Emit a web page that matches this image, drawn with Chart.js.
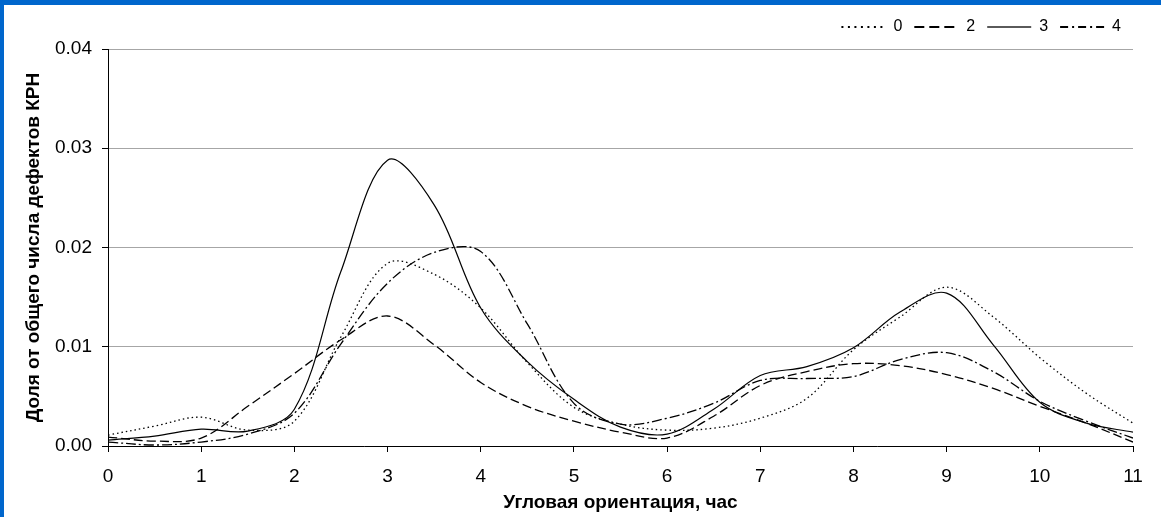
<!DOCTYPE html>
<html><head><meta charset="utf-8">
<script src="https://cdn.jsdelivr.net/npm/chart.js@4.4.1/dist/chart.umd.min.js"></script>
<style>
html,body{margin:0;padding:0;background:#fff;}
body{width:1161px;height:517px;overflow:hidden;position:relative;}
#wrap{position:absolute;left:0;top:0;width:1161px;height:517px;}
.bt{position:absolute;left:0;top:0;width:1161px;height:5px;background:#0066CC;}
.bl{position:absolute;left:0;top:0;width:4px;height:517px;background:#0066CC;}
</style></head><body>
<div id="wrap"><canvas id="c" width="1161" height="517"></canvas></div>
<div class="bt"></div><div class="bl"></div>
<script>
const hours = [0,0.5,1,1.5,2,2.5,3,3.5,4,4.5,5,5.5,6,6.5,7,7.5,8,8.5,9,9.5,10,10.5,11];
const seriesNames = ['0','2','3','4'];
const s0 = [0.0011,0.0020,0.0029,0.0016,0.0025,0.0110,0.0184,0.0173,0.0139,0.0084,0.0039,0.0022,0.0016,0.0018,0.0028,0.0048,0.0097,0.0130,0.0160,0.0130,0.0089,0.0053,0.0023];
const s2 = [0.0009,0.0005,0.0008,0.0040,0.0073,0.0107,0.0131,0.0102,0.0064,0.0040,0.0025,0.0014,0.0008,0.0030,0.0061,0.0075,0.0083,0.0081,0.0072,0.0058,0.0040,0.0023,0.0004];
const s3 = [0.0006,0.0010,0.0017,0.0015,0.0037,0.0176,0.0288,0.0243,0.0139,0.0085,0.0047,0.0019,0.0012,0.0037,0.0071,0.0080,0.0099,0.0135,0.0154,0.0102,0.0044,0.0023,0.0014];
const s4 = [0.0004,0.0001,0.0004,0.0012,0.0033,0.0103,0.0164,0.0195,0.0196,0.0123,0.0043,0.0022,0.0028,0.0043,0.0066,0.0068,0.0070,0.0087,0.0094,0.0075,0.0045,0.0025,0.0008];
const yTicks = [0,0.01,0.02,0.03,0.04];
const xTitle = 'Угловая ориентация, час';
const yTitle = 'Доля от общего числа дефектов КРН';

const FONT = 'Arial, "Liberation Sans", sans-serif';
const pts = arr => arr.map((v,i)=>({x:hours[i], y:v}));
const mk = (label, arr, dash, w, legendDash, legendColor) => ({
  label, data: pts(arr), borderColor:'#000', backgroundColor:'#000',
  borderWidth:w, borderDash:dash, pointRadius:0, tension:0.35, fill:false,
  legendDash, legendColor
});

const legendGap = { id:'legendGap', afterInit(chart){
  const lg = chart.legend; if(!lg) return;
  const f = lg.fit;
  lg.fit = function(){ f.call(this); this.height += 4; };
}};

new Chart(document.getElementById('c'), {
  type:'line',
  data:{ datasets:[
    mk(seriesNames[0], s0, [1.5,3], 1.3, [2,4.5], '#000'),
    mk(seriesNames[1], s2, [9,4], 1.3, [10,5], '#000'),
    mk(seriesNames[2], s3, [], 1.2, [], '#5a5a5a'),
    mk(seriesNames[3], s4, [10,3,2,3], 1.3, [8,4,2,4], '#000')
  ]},
  plugins:[legendGap],
  options:{
    responsive:false, animation:false, devicePixelRatio:1,
    layout:{padding:{left:0,right:28,top:7,bottom:0}},
    plugins:{
      legend:{ position:'top', align:'end',
        labels:{ usePointStyle:true, pointStyle:'line', pointStyleWidth:44, color:'#000',
          font:{family:FONT, size:16}, padding:12,
          generateLabels: chart => chart.data.datasets.map((ds,i)=>({
            text: ds.label, fillStyle:ds.legendColor, strokeStyle:ds.legendColor, fontColor:'#000',
            lineWidth: 2, lineDash: ds.legendDash, pointStyle:'line',
            hidden:false, datasetIndex:i
          }))
        } },
      tooltip:{enabled:false}
    },
    scales:{
      x:{ type:'linear', min:0, max:11,
        ticks:{ stepSize:1, color:'#000', font:{family:FONT,size:19}, padding:13 },
        grid:{ drawOnChartArea:false, drawTicks:true, tickLength:6, tickColor:'#000' },
        border:{ color:'#000', width:1 },
        title:{ display:true, text:xTitle, color:'#000', font:{family:FONT,size:19,weight:'bold'}, padding:{top:4,bottom:3} },
        afterFit: s => { s.height = 71; }
      },
      y:{ min:0, max:0.04,
        afterBuildTicks: s => { s.ticks = yTicks.map(v=>({value:v})); },
        ticks:{ color:'#000', font:{family:FONT,size:19}, padding:10, callback: v => v.toFixed(2) },
        grid:{ color:'#a6a6a6', lineWidth:1, drawTicks:true, tickLength:6, tickColor:'#000' },
        border:{ color:'#000', width:1 },
        title:{ display:true, text:yTitle, color:'#000', font:{family:FONT,size:19,weight:'bold'}, padding:{top:22,bottom:4} },
        afterFit: s => { s.width = 108; }
      }
    }
  }
});
</script>
</body></html>
